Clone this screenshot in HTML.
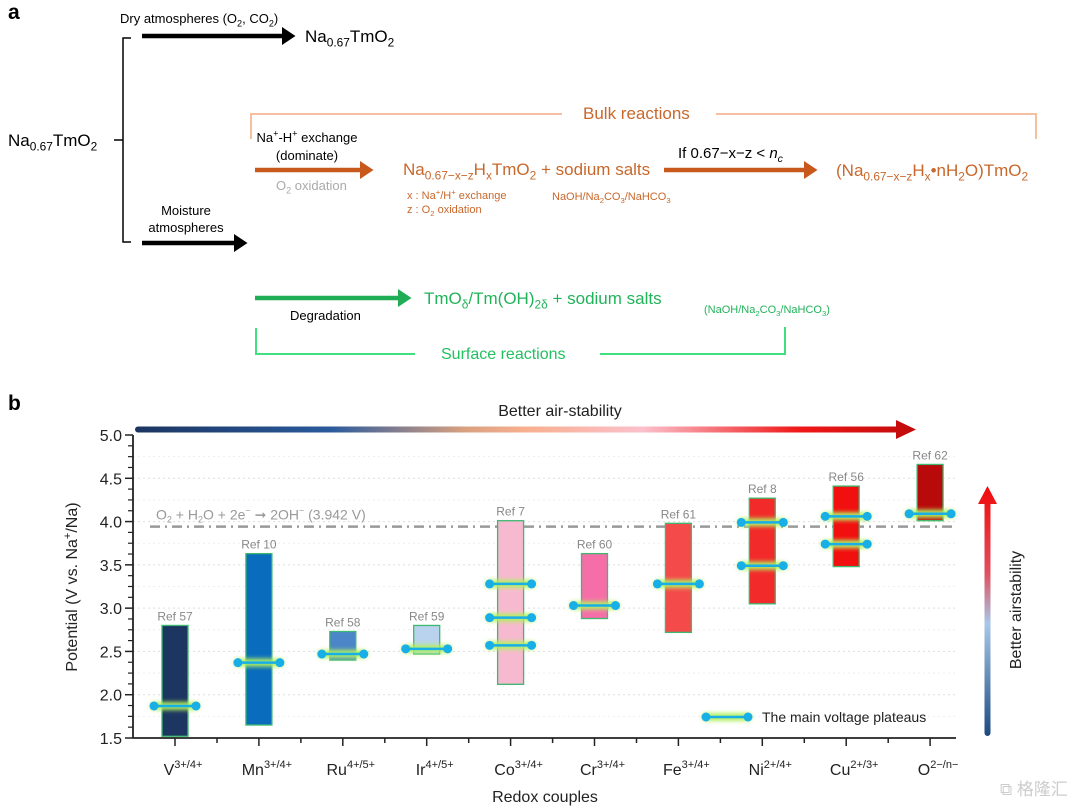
<!DOCTYPE html>
<html><head><meta charset="utf-8">
<style>
body{margin:0;background:#fff;}
#wrap{position:relative;width:1080px;height:807px;overflow:hidden;font-family:"Liberation Sans",sans-serif;}
.t{position:absolute;white-space:nowrap;line-height:1;}
sub,sup{font-size:70%;line-height:0;}
svg{position:absolute;left:0;top:0;}
</style></head><body>
<div id="wrap">
<svg width="1080" height="807">
<defs>
<marker id="ab" markerWidth="4" markerHeight="4" refX="0" refY="2" orient="auto" markerUnits="strokeWidth"><path d="M0,0L3,2L0,4z" fill="#000"/></marker>
<marker id="ao" markerWidth="4" markerHeight="4" refX="0" refY="2" orient="auto" markerUnits="strokeWidth"><path d="M0,0L3,2L0,4z" fill="#c8581c"/></marker>
<marker id="ag" markerWidth="4" markerHeight="4" refX="0" refY="2" orient="auto" markerUnits="strokeWidth"><path d="M0,0L3,2L0,4z" fill="#1fae55"/></marker>
</defs>
<g><line x1="142" y1="36" x2="282" y2="36" stroke="#000" stroke-width="4.5" marker-end="url(#ab)"/></g>
<g><line x1="142" y1="243" x2="234" y2="243" stroke="#000" stroke-width="4.5" marker-end="url(#ab)"/></g>
<path d="M131,38H123V242H131M123,140H114" fill="none" stroke="#000" stroke-width="1.5"/>
<path d="M251,139V114H562M716,114H1036V139" fill="none" stroke="#f6c0a0" stroke-width="2"/>
<g><line x1="255" y1="170" x2="360" y2="170" stroke="#c8581c" stroke-width="4.5" marker-end="url(#ao)"/></g>
<g><line x1="664" y1="170" x2="804" y2="170" stroke="#c8581c" stroke-width="4.5" marker-end="url(#ao)"/></g>
<g><line x1="255" y1="298" x2="398" y2="298" stroke="#1fae55" stroke-width="4.5" marker-end="url(#ag)"/></g>
<path d="M256,328V354H415M600,354H785V327" fill="none" stroke="#40e080" stroke-width="2"/>
</svg>

<div class="t" style="left:8px;top:2px;font-size:21px;font-weight:bold;">a</div>
<div class="t" style="left:120px;top:12px;font-size:13px;">Dry atmospheres (O<sub>2</sub>, CO<sub>2</sub>)</div>
<div class="t" style="left:305px;top:28px;font-size:17px;">Na<sub>0.67</sub>TmO<sub>2</sub></div>
<div class="t" style="left:8px;top:132px;font-size:17px;">Na<sub>0.67</sub>TmO<sub>2</sub></div>
<div class="t" style="left:142px;top:202px;font-size:13px;text-align:center;width:88px;line-height:17px;">Moisture<br>atmospheres</div>
<div class="t" style="left:583px;top:105px;font-size:17px;color:#c8682c;">Bulk reactions</div>
<div class="t" style="left:248px;top:129px;font-size:13px;text-align:center;width:118px;line-height:18px;">Na<sup>+</sup>-H<sup>+</sup> exchange<br>(dominate)</div>
<div class="t" style="left:276px;top:179px;font-size:13px;color:#aaa;">O<sub>2</sub> oxidation</div>
<div class="t" style="left:403px;top:161px;font-size:17px;color:#c8682c;">Na<sub>0.67−x−z</sub>H<sub>x</sub>TmO<sub>2</sub> + sodium salts</div>
<div class="t" style="left:407px;top:189px;font-size:11px;color:#c8682c;line-height:14px;">x : Na<sup>+</sup>/H<sup>+</sup> exchange<br>z : O<sub>2</sub> oxidation</div>
<div class="t" style="left:552px;top:192px;font-size:11px;color:#c8682c;">NaOH/Na<sub>2</sub>CO<sub>3</sub>/NaHCO<sub>3</sub></div>
<div class="t" style="left:678px;top:146px;font-size:15px;">If 0.67−x−z &lt; <i>n<sub>c</sub></i></div>
<div class="t" style="left:836px;top:162px;font-size:17px;color:#c8682c;">(Na<sub>0.67−x−z</sub>H<sub>x</sub>•nH<sub>2</sub>O)TmO<sub>2</sub></div>
<div class="t" style="left:424px;top:290px;font-size:17px;color:#22b35a;">TmO<sub>δ</sub>/Tm(OH)<sub>2δ</sub> + sodium salts</div>
<div class="t" style="left:290px;top:309px;font-size:13px;">Degradation</div>
<div class="t" style="left:704px;top:305px;font-size:11px;color:#22b35a;">(NaOH/Na<sub>2</sub>CO<sub>3</sub>/NaHCO<sub>3</sub>)</div>
<div class="t" style="left:441px;top:347px;font-size:16px;color:#22c060;">Surface reactions</div>
<div class="t" style="left:8px;top:393px;font-size:21px;font-weight:bold;">b</div>

<svg id="chart" width="1080" height="807"></svg>
</div>
<script>
const categories=["V","Mn","Ru","Ir","Co","Cr","Fe","Ni","Cu","O"];
const sups=["3+/4+","3+/4+","4+/5+","4+/5+","3+/4+","3+/4+","3+/4+","2+/4+","2+/3+","2−/n−"];
const lows=[1.52,1.65,2.40,2.47,2.12,2.88,2.72,3.05,3.48,4.01];
const highs=[2.80,3.63,2.73,2.80,4.01,3.63,3.98,4.27,4.41,4.66];
const plateaus=[[1.87],[2.37],[2.47],[2.53],[2.57,2.89,3.28],[3.03],[3.28],[3.49,3.99],[3.74,4.06],[4.09]];
const refs=["Ref 57","Ref 10","Ref 58","Ref 59","Ref 7","Ref 60","Ref 61","Ref 8","Ref 56","Ref 62"];
const colors=["#1c3561","#0a6cbd","#4a86c8","#b9d3ee","#f7b9d0","#f56ea8","#f54a4a","#f22a2a","#f20f0f","#b80a0a"];
const yTicks=[1.5,2.0,2.5,3.0,3.5,4.0,4.5,5.0];
const refLine=3.942;

const NS="http://www.w3.org/2000/svg";
const svg=document.getElementById('chart');
const X0=133,X1=956,Y0=738,Y1=435,VMIN=1.5,VMAX=5.0;
const y=v=>Y0-(v-VMIN)/(VMAX-VMIN)*(Y0-Y1);
const x=i=>175+i*83.9;
function mk(tag,at,parent){const e=document.createElementNS(NS,tag);for(const k in at)e.setAttribute(k,at[k]);(parent||svg).appendChild(e);return e;}

const defs=mk('defs',{});
defs.innerHTML='<linearGradient id="hg" x1="0" x2="1"><stop offset="0" stop-color="#1c3561"/><stop offset="0.25" stop-color="#2a5a9c"/><stop offset="0.42" stop-color="#d8a080"/><stop offset="0.5" stop-color="#f8b090"/><stop offset="0.65" stop-color="#fbc0cc"/><stop offset="0.85" stop-color="#f01818"/><stop offset="1" stop-color="#c00a0a"/></linearGradient>'+
'<linearGradient id="vg" x1="0" y1="1" x2="0" y2="0"><stop offset="0" stop-color="#1c4a80"/><stop offset="0.45" stop-color="#a8c8e8"/><stop offset="0.65" stop-color="#e05060"/><stop offset="1" stop-color="#f00a0a"/></linearGradient>'+
'<filter id="glow" filterUnits="userSpaceOnUse" x="0" y="0" width="1080" height="807"><feGaussianBlur stdDeviation="2.2"/></filter>';

yTicks.forEach(v=>{if(v>VMIN&&v<VMAX){
const g=mk('line',{x1:X0,x2:X1,y1:y(v),y2:y(v),stroke:'#ddd','stroke-dasharray':'2,3'});

}});
for(let v=1.75;v<5;v+=0.5){const g=mk('line',{x1:X0,x2:X1,y1:y(v),y2:y(v),stroke:'#eee','stroke-dasharray':'2,3'});

}

const rl=mk('line',{x1:150,x2:956,y1:y(refLine),y2:y(refLine),stroke:'#999','stroke-width':2.5,'stroke-dasharray':'10,5,2,5'});


const rlt=mk('text',{x:156,y:y(refLine)-7,'font-size':14,fill:'#999'});


rlt.innerHTML='O<tspan font-size="9" dy="3">2</tspan><tspan dy="-3"> + H</tspan><tspan font-size="9" dy="3">2</tspan><tspan dy="-3">O + 2e</tspan><tspan font-size="9" dy="-6">−</tspan><tspan dy="6"> ➞ 2OH</tspan><tspan font-size="9" dy="-6">−</tspan><tspan dy="6"> (3.942 V)</tspan>';

categories.forEach((c,i)=>{
const cx=x(i);
const b=mk('rect',{x:cx-13,y:y(highs[i]),width:26,height:y(lows[i])-y(highs[i]),fill:colors[i],stroke:'#3cb870','stroke-width':1.3});


const rt=mk('text',{x:cx,y:y(highs[i])-5,'font-size':12,fill:'#888','text-anchor':'middle'});
rt.textContent=refs[i];


plateaus[i].forEach(p=>{
const gl=mk('line',{x1:cx-21,x2:cx+21,y1:y(p),y2:y(p),stroke:'#b0f060','stroke-width':8,'stroke-linecap':'round',filter:'url(#glow)'});


const pl=mk('line',{x1:cx-21,x2:cx+21,y1:y(p),y2:y(p),stroke:'#18aee6','stroke-width':2.5});


[cx-21,cx+21].forEach(px=>{const d=mk('circle',{cx:px,cy:y(p),r:4.5,fill:'#18aee6'});

});
});
const tk=mk('line',{x1:cx,x2:cx,y1:Y0,y2:Y0+8,stroke:'#222','stroke-width':1.5});


if(i<categories.length-1){const mt=mk('line',{x1:cx+42,x2:cx+42,y1:Y0,y2:Y0+5,stroke:'#222','stroke-width':1.5});

}
const xl=mk('text',{x:cx+8,y:775,'font-size':16,fill:'#222','text-anchor':'middle'});
xl.innerHTML=c+'<tspan font-size="11" dy="-7">'+sups[i]+'</tspan>';


});

const ya=mk('line',{x1:X0,x2:X0,y1:Y1,y2:Y0,stroke:'#222','stroke-width':1.8});


const xa=mk('line',{x1:X0,x2:X1,y1:Y0,y2:Y0,stroke:'#222','stroke-width':1.8});


yTicks.forEach(v=>{
const t=mk('line',{x1:X0-8,x2:X0,y1:y(v),y2:y(v),stroke:'#222','stroke-width':1.5});


const l=mk('text',{x:X0-11,y:y(v)+6,'font-size':16,fill:'#222','text-anchor':'end'});
l.textContent=v.toFixed(1);


});
for(let v=1.625;v<5;v+=0.125){if(Math.abs((v*2)%1)<1e-6)continue;
const t=mk('line',{x1:X0-5,x2:X0,y1:y(v),y2:y(v),stroke:'#222','stroke-width':1.2});

}

const yt=mk('text',{x:0,y:0,'font-size':16,fill:'#222','text-anchor':'middle',transform:'translate(77,587) rotate(-90)'});
yt.innerHTML='Potential (V vs. Na<tspan font-size="11" dy="-6">+</tspan><tspan dy="6">/Na)</tspan>';


const xt=mk('text',{x:545,y:802,'font-size':16,fill:'#222','text-anchor':'middle'});
xt.textContent='Redox couples';



const ha=mk('path',{d:'M138,426.5H896V420L916,429.5L896,439V432.5H138A3,3 0 0 1 138,426.5Z',fill:'url(#hg)'});


const hat=mk('text',{x:560,y:416,'font-size':16,fill:'#222','text-anchor':'middle'});
hat.textContent='Better air-stability';


const va=mk('path',{d:'M984.5,733V504H978L987.5,486L997,504H990.5V733A3,3 0 0 1 984.5,733Z',fill:'url(#vg)'});


const vat=mk('text',{x:0,y:0,'font-size':16,fill:'#222','text-anchor':'middle',transform:'translate(1021,610) rotate(-90)'});
vat.textContent='Better airstability';



const lg=mk('g',{});


mk('line',{x1:706,x2:748,y1:717,y2:717,stroke:'#b0f060','stroke-width':8,'stroke-linecap':'round',filter:'url(#glow)'},lg);
mk('line',{x1:706,x2:748,y1:717,y2:717,stroke:'#18aee6','stroke-width':2.5},lg);
mk('circle',{cx:706,cy:717,r:4.5,fill:'#18aee6'},lg);
mk('circle',{cx:748,cy:717,r:4.5,fill:'#18aee6'},lg);
const lt=mk('text',{x:762,y:722,'font-size':14,fill:'#222'},lg);
lt.textContent='The main voltage plateaus';

const wm=mk('text',{x:1000,y:795,'font-size':17,fill:'#ccc'});
wm.textContent='⧉ 格隆汇';


</script>
</body></html>
